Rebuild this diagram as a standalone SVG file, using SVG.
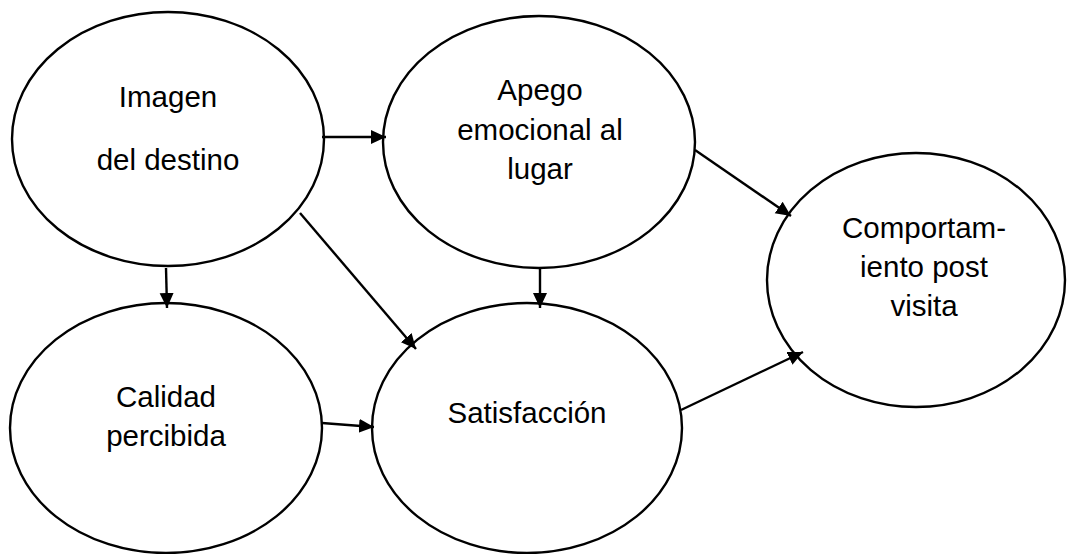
<svg xmlns="http://www.w3.org/2000/svg" width="1067" height="554" viewBox="0 0 1067 554">
<style>
.node ellipse{fill:#fff;stroke:#000;stroke-width:2.4}
.node text{font-family:"Liberation Sans",Arial,sans-serif;font-size:29.5px;fill:#000;text-anchor:middle}
.edge{stroke:#000;stroke-width:2.4;fill:none;marker-end:url(#arr)}
</style>
<defs>
<marker id="arr" markerUnits="userSpaceOnUse" markerWidth="16" markerHeight="16" refX="15" refY="7" orient="auto">
<path d="M0,0 L15,7 L0,14 z" fill="#000"/>
</marker>
</defs>
<rect width="1067" height="554" fill="#fff"/>
<g id="imagen" class="node">
<ellipse cx="168" cy="139" rx="156" ry="127"/>
<text x="168" y="107">Imagen</text>
<text x="168" y="170">del destino</text>
</g>
<g id="apego" class="node">
<ellipse cx="539" cy="142" rx="156" ry="126"/>
<text x="540" y="100">Apego</text>
<text x="540" y="140">emocional al</text>
<text x="540" y="179">lugar</text>
</g>
<g id="comportamiento" class="node">
<ellipse cx="916" cy="280" rx="149" ry="127"/>
<text x="924" y="238">Comportam-</text>
<text x="924" y="277">iento post</text>
<text x="924" y="316">visita</text>
</g>
<g id="calidad" class="node">
<ellipse cx="166" cy="428" rx="156" ry="125"/>
<text x="166" y="407">Calidad</text>
<text x="166" y="446">percibida</text>
</g>
<g id="satisfaccion" class="node">
<ellipse cx="527" cy="428" rx="155" ry="125"/>
<text x="527" y="423">Satisfacción</text>
</g>
<g id="connectors">
<line class="edge" x1="322" y1="137" x2="386" y2="137"/>
<line class="edge" x1="695" y1="150" x2="791" y2="216"/>
<line class="edge" x1="166" y1="268" x2="167" y2="308"/>
<line class="edge" x1="300" y1="213" x2="416" y2="349"/>
<line class="edge" x1="540" y1="269" x2="540" y2="308"/>
<line class="edge" x1="322" y1="423" x2="374" y2="427"/>
<line class="edge" x1="681" y1="410" x2="803" y2="352"/>
</g>
</svg>
